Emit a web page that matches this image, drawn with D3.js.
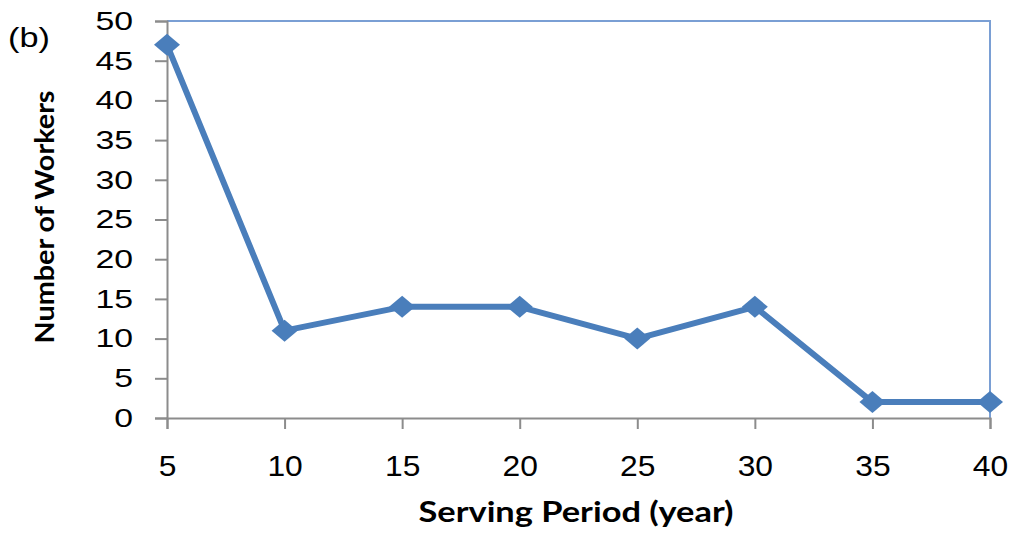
<!DOCTYPE html>
<html>
<head>
<meta charset="utf-8">
<script src="https://cdn.jsdelivr.net/npm/d3@7"></script>
<style>
  body { margin: 0; background: #fff; }
  svg { display: block; }
</style>
</head>
<body>
<div id="chart"></div>
<script>
// serving period (years) and number of workers
var periods = [5, 10, 15, 20, 25, 30, 35, 40];
var workers = [47, 11, 14, 14, 10, 14, 2, 2];
var yTicks = [0, 5, 10, 15, 20, 25, 30, 35, 40, 45, 50];

var W = 1016, H = 533;
var margin = {top: 21, right: 26, bottom: 115, left: 167},
    width = W - margin.left - margin.right,
    height = H - margin.top - margin.bottom;

var svg = d3.select("#chart")
  .append("svg")
    .attr("width", W)
    .attr("height", H);

var g = svg.append("g")
    .attr("transform", "translate(" + margin.left + "," + margin.top + ")");

var x = d3.scaleLinear().domain([5, 40]).range([0, width]);
var y = d3.scaleLinear().domain([0, 50]).range([height, 0]);

// the original picture is a bit stretched sideways, so widen the text
function stretch(sel, k) {
  sel.each(function() {
    var len = this.getComputedTextLength();
    d3.select(this)
      .attr("textLength", len * k)
      .attr("lengthAdjust", "spacingAndGlyphs");
  });
}

// plot box border (top and right)
g.append("path")
    .attr("d", "M0,0H" + width + "V" + height)
    .attr("fill", "none")
    .attr("stroke", "#7a9fd4")
    .attr("stroke-width", 2);

// y axis
var yAxis = g.append("g")
    .call(d3.axisLeft(y).tickValues(yTicks).tickSize(12).tickPadding(22));
yAxis.select(".domain").attr("stroke", "#8c8c8c").attr("stroke-width", 2);
yAxis.selectAll(".tick line").attr("stroke", "#8c8c8c").attr("stroke-width", 2);
yAxis.selectAll(".tick text")
    .attr("font-family", "Liberation Sans, Arial, sans-serif")
    .attr("font-size", 26)
    .attr("fill", "#000")
    .call(stretch, 1.3);

// x axis
var xAxis = g.append("g")
    .attr("transform", "translate(0," + height + ")")
    .call(d3.axisBottom(x).tickValues(periods).tickSize(11).tickPadding(26));
xAxis.select(".domain").attr("stroke", "#8c8c8c").attr("stroke-width", 2);
xAxis.selectAll(".tick line").attr("stroke", "#8c8c8c").attr("stroke-width", 2);
xAxis.selectAll(".tick text")
    .attr("font-family", "Liberation Sans, Arial, sans-serif")
    .attr("font-size", 30)
    .attr("fill", "#000")
    .call(stretch, 1.06);

// the series line
var data = periods.map(function(p, i) { return {p: p, v: workers[i]}; });
var line = d3.line()
    .x(function(d) { return x(d.p); })
    .y(function(d) { return y(d.v); });

g.append("path")
    .datum(data)
    .attr("d", line)
    .attr("fill", "none")
    .attr("stroke", "#4a7ebb")
    .attr("stroke-width", 6)
    .attr("stroke-linejoin", "round");

// diamond markers
g.selectAll(".marker")
    .data(data)
    .enter()
    .append("path")
      .attr("class", "marker")
      .attr("transform", function(d) { return "translate(" + x(d.p) + "," + y(d.v) + ")"; })
      .attr("d", "M0,-11L13,0L0,11L-13,0Z")
      .attr("fill", "#4a7ebb");

// titles
svg.append("text")
    .attr("x", 8)
    .attr("y", 47)
    .attr("font-family", "Liberation Sans, Arial, sans-serif")
    .attr("font-size", 27)
    .text("(b)")
    .call(stretch, 1.27);

svg.append("text")
    .attr("transform", "translate(54,217) rotate(-90)")
    .attr("text-anchor", "middle")
    .attr("font-family", "Lato, sans-serif")
    .attr("font-weight", "bold")
    .attr("font-size", 27)
    .attr("textLength", 253)
    .attr("lengthAdjust", "spacingAndGlyphs")
    .text("Number of Workers");

svg.append("text")
    .attr("x", 576)
    .attr("y", 522)
    .attr("text-anchor", "middle")
    .attr("font-family", "Lato, sans-serif")
    .attr("font-weight", "bold")
    .attr("font-size", 29)
    .attr("textLength", 315)
    .attr("lengthAdjust", "spacingAndGlyphs")
    .text("Serving Period (year)");
</script>
</body>
</html>
